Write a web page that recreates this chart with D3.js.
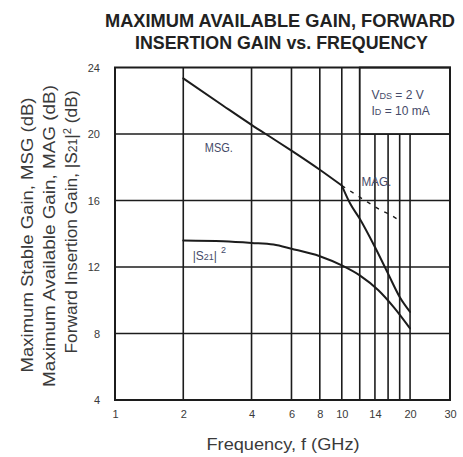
<!DOCTYPE html>
<html>
<head>
<meta charset="utf-8">
<script src="https://cdn.jsdelivr.net/npm/d3@7/dist/d3.min.js"></script>
<style>
  html, body { margin: 0; padding: 0; background: #fff; }
  svg { display: block; }
  text { font-family: "Liberation Sans", Arial, sans-serif; }
</style>
</head>
<body>
<svg id="chart" width="463" height="457"></svg>
<script>
// Gain vs. frequency (GHz, dB)
const msgFreq  = [2, 3, 4, 5, 6, 8, 10];
const msgGain  = [23.35, 21.7, 20.55, 19.7, 19.0, 17.85, 16.9];

const magFreq  = [10, 10.9, 12, 14, 16, 18, 20];
const magGain  = [16.9, 15.8, 14.9, 13.2, 11.6, 10.2, 9.3];

// MSG continued past the stability boundary (dashed)
const msgExtFreq = [10, 13, 14.7, 16.3, 17.5];
const msgExtGain = [16.9, 15.9, 15.45, 15.15, 14.9];

const s21Freq  = [2, 3, 4, 5, 6, 8, 10, 12, 14.5, 16.9, 20];
const s21Gain  = [13.6, 13.55, 13.45, 13.35, 13.1, 12.65, 12.1, 11.5, 10.6, 9.6, 8.3];

const xTickLabels = [1, 2, 4, 6, 8, 10, 14, 20, 30];
const xGridLines  = [2, 4, 6, 8, 10, 12, 14, 16, 18, 20];
const yTickLabels = [4, 8, 12, 16, 20, 24];
const yGridLines  = [8, 12, 16, 20];

const svg = d3.select("#chart");
const plotLeft = 115, plotRight = 450, plotTop = 67.5, plotBottom = 400;

const x = d3.scaleLog().domain([1, 30]).range([plotLeft, plotRight]);
const y = d3.scaleLinear().domain([4, 24]).range([plotBottom, plotTop]);

const ink = "#1c1c1c";
const textInk = "#3a3a3a";
const noteInk = "#454a68";

// Title
const title = svg.append("g").attr("font-weight", "bold").attr("fill", "#222")
  .attr("font-size", 18).attr("text-anchor", "middle");
title.append("text").attr("x", 280).attr("y", 26.5)
  .attr("textLength", 350).attr("lengthAdjust", "spacingAndGlyphs")
  .text("MAXIMUM AVAILABLE GAIN, FORWARD");
title.append("text").attr("x", 281.5).attr("y", 48.5)
  .attr("textLength", 293).attr("lengthAdjust", "spacingAndGlyphs")
  .text("INSERTION GAIN vs. FREQUENCY");

// Grid
const grid = svg.append("g").attr("stroke", ink).attr("stroke-width", 1.6);
grid.selectAll("line.v").data(xGridLines).join("line")
  .attr("class", "v")
  .attr("x1", d => x(d)).attr("x2", d => x(d))
  .attr("y1", plotTop).attr("y2", plotBottom);
grid.selectAll("line.h").data(yGridLines).join("line")
  .attr("class", "h")
  .attr("x1", plotLeft).attr("x2", plotRight)
  .attr("y1", d => y(d)).attr("y2", d => y(d));

// Bias condition box (covers the grid behind it)
const boxX0 = x(12), boxY0 = y(24), boxX1 = x(30), boxY1 = y(20);
svg.append("rect")
  .attr("x", boxX0).attr("y", boxY0)
  .attr("width", boxX1 - boxX0).attr("height", boxY1 - boxY0)
  .attr("fill", "#fff").attr("stroke", ink).attr("stroke-width", 1.8);

const legend = svg.append("g").attr("fill", noteInk).attr("font-size", 12);
const l1 = legend.append("text").attr("x", 371.5).attr("y", 98.5);
l1.append("tspan").text("V");
l1.append("tspan").attr("font-size", 9).text("DS");
l1.append("tspan").text(" = 2 V");
const l2 = legend.append("text").attr("x", 371.5).attr("y", 115);
l2.append("tspan").text("I");
l2.append("tspan").attr("font-size", 9).text("D");
l2.append("tspan").text(" = 10 mA");

// Plot frame
svg.append("rect")
  .attr("x", plotLeft).attr("y", plotTop)
  .attr("width", plotRight - plotLeft).attr("height", plotBottom - plotTop)
  .attr("fill", "none").attr("stroke", ink).attr("stroke-width", 2);

// Axes tick labels
const xAxis = d3.axisBottom(x).tickValues(xTickLabels)
  .tickFormat(d3.format("d")).tickSize(0).tickPadding(10);
svg.append("g").attr("transform", `translate(0,${plotBottom})`).call(xAxis)
  .call(g => g.select(".domain").remove())
  .call(g => g.selectAll("text").attr("fill", textInk).attr("font-size", 11)
    .attr("font-family", "Liberation Sans, Arial, sans-serif"));

const yAxis = d3.axisLeft(y).tickValues(yTickLabels)
  .tickFormat(d3.format("d")).tickSize(0).tickPadding(15);
svg.append("g").attr("transform", `translate(${plotLeft},0)`).call(yAxis)
  .call(g => g.select(".domain").remove())
  .call(g => g.selectAll("text").attr("fill", textInk).attr("font-size", 11)
    .attr("font-family", "Liberation Sans, Arial, sans-serif"));

// Curves
const zip = (fs, gs) => fs.map((f, i) => [f, gs[i]]);
const line = d3.line().x(d => x(d[0])).y(d => y(d[1])).curve(d3.curveMonotoneX);

const curves = svg.append("g").attr("fill", "none").attr("stroke", ink)
  .attr("stroke-linecap", "round").attr("stroke-linejoin", "round");
curves.append("path").attr("d", line(zip(msgFreq, msgGain))).attr("stroke-width", 2);
curves.append("path").attr("d", line(zip(magFreq, magGain))).attr("stroke-width", 2);
curves.append("path").attr("d", line(zip(s21Freq, s21Gain))).attr("stroke-width", 2);
curves.append("path").attr("d", line(zip(msgExtFreq, msgExtGain)))
  .attr("stroke-width", 1.4).attr("stroke-dasharray", "4,6").attr("stroke-linecap", "butt");

// Curve labels
const notes = svg.append("g").attr("fill", noteInk).attr("font-size", 12);
notes.append("text").attr("x", x(2.49)).attr("y", y(18.9))
  .attr("textLength", 28).attr("lengthAdjust", "spacingAndGlyphs").text("MSG.");
notes.append("text").attr("x", x(12.2)).attr("y", y(16.9))
  .attr("textLength", 30).attr("lengthAdjust", "spacingAndGlyphs").text("MAG.");
const s = notes.append("text").attr("x", x(2.2)).attr("y", y(12.45));
s.append("tspan").text("|S");
s.append("tspan").attr("font-size", 9).text("21");
s.append("tspan").text("|");
s.append("tspan").attr("font-size", 9).attr("dx", 4).attr("dy", -7).text("2");

// Axis titles
const yTitle = svg.append("g").attr("fill", textInk).attr("font-size", 17)
  .attr("text-anchor", "middle");
const yLines = [
  { cx: 33, cy: 235, len: 275 },
  { cx: 55, cy: 236, len: 302 },
  { cx: 77, cy: 222, len: 263 }
];
yTitle.append("text")
  .attr("transform", `translate(${yLines[0].cx},${yLines[0].cy}) rotate(-90)`)
  .attr("textLength", yLines[0].len).attr("lengthAdjust", "spacingAndGlyphs")
  .text("Maximum Stable Gain, MSG (dB)");
yTitle.append("text")
  .attr("transform", `translate(${yLines[1].cx},${yLines[1].cy}) rotate(-90)`)
  .attr("textLength", yLines[1].len).attr("lengthAdjust", "spacingAndGlyphs")
  .text("Maximum Available Gain, MAG (dB)");
const t3 = yTitle.append("text")
  .attr("transform", `translate(${yLines[2].cx},${yLines[2].cy}) rotate(-90)`)
  .attr("textLength", yLines[2].len).attr("lengthAdjust", "spacingAndGlyphs");
t3.append("tspan").text("Forward Insertion Gain, |S");
t3.append("tspan").attr("font-size", 12).text("21");
t3.append("tspan").text("|");
t3.append("tspan").attr("font-size", 11).attr("dy", -6).text("2");
t3.append("tspan").attr("dy", 6).text(" (dB)");

svg.append("text").attr("x", 283).attr("y", 450)
  .attr("text-anchor", "middle").attr("fill", textInk).attr("font-size", 16)
  .attr("textLength", 153).attr("lengthAdjust", "spacingAndGlyphs")
  .text("Frequency, f (GHz)");
</script>
</body>
</html>
